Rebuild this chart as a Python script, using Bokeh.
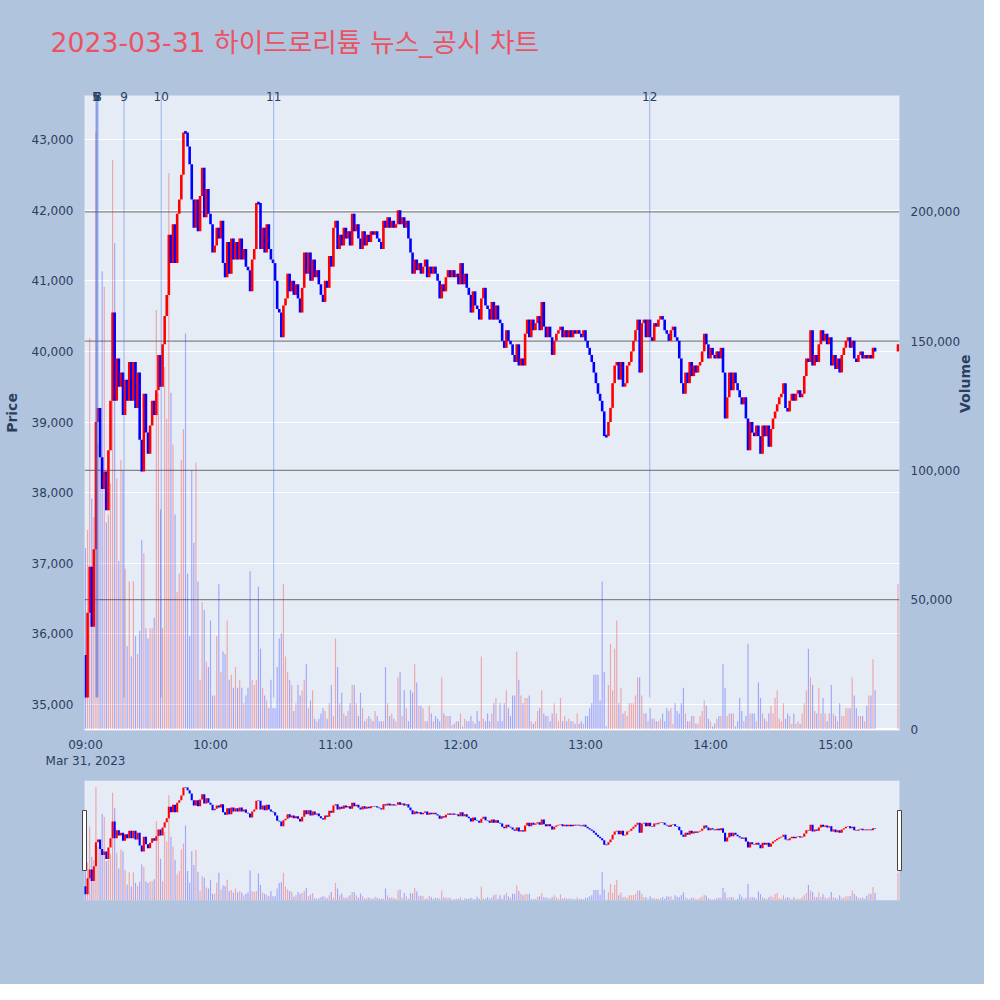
import math
import pandas as pd
from bokeh.plotting import figure
from bokeh.models import (ColumnDataSource, Range1d, LinearAxis, FixedTicker,
                          NumeralTickFormatter, DatetimeTickFormatter, Span, Title)
from bokeh.layouts import column
from bokeh.embed import file_html
from bokeh.resources import INLINE

# ---------------- data ----------------
TITLE = "2023-03-31 하이드로리튬 뉴스_공시 차트"
SESSION_START = "2023-03-31 09:00"
MINUTES = list(range(380)) + [390]          # minute bars, then the 15:30 closing auction
OPEN_FIRST = 35700
CLOSE = [
    35100, 36300, 36950, 36100, 37200, 39000, 39200, 38500, 38050, 38300,
    37750, 38600, 39300, 40550, 39300, 39900, 39500, 39700, 39100, 39600,
    39300, 39850, 39300, 39850, 39200, 39700, 38750, 38300, 39400, 38850,
    38550, 38950, 39300, 39100, 39450, 39950, 39500, 40100, 40500, 40800,
    41650, 41250, 41800, 41250, 41950, 42150, 42500, 43100, 43100, 42900,
    42650, 42150, 41750, 42150, 41700, 42200, 42600, 41900, 42300, 41950,
    41800, 41400, 41500, 41750, 41600, 41850, 41250, 41050, 41550, 41100,
    41600, 41300, 41550, 41300, 41600, 41300, 41450, 41200, 41150, 40850,
    41300, 41450, 42100, 42100, 41450, 41750, 41400, 41800, 41450, 41300,
    41250, 41000, 40600, 40550, 40200, 40650, 40750, 41100, 40850, 41000,
    40800, 40950, 40750, 40550, 40900, 41400, 41100, 41400, 41000, 41300,
    41050, 41150, 40950, 40800, 40700, 41000, 40900, 41350, 41200, 41750,
    41850, 41450, 41650, 41500, 41750, 41600, 41700, 41500, 41950, 41700,
    41800, 41600, 41450, 41700, 41500, 41650, 41550, 41700, 41650, 41700,
    41600, 41550, 41450, 41850, 41750, 41900, 41750, 41850, 41750, 41800,
    42000, 41800, 41900, 41750, 41850, 41600, 41400, 41100, 41300, 41150,
    41250, 41100, 41200, 41300, 41050, 41200, 41100, 41200, 41100, 41000,
    40750, 40950, 40850, 41050, 41150, 41050, 41150, 41050, 41100, 40950,
    41250, 40950, 41100, 40900, 40800, 40550, 40850, 40650, 40600, 40450,
    40750, 40900, 40650, 40600, 40450, 40700, 40450, 40650, 40450, 40400,
    40150, 40050, 40300, 40150, 40100, 39950, 39850, 40100, 39800, 39900,
    39800, 40250, 40450, 40200, 40450, 40300, 40400, 40500, 40300, 40700,
    40350, 40200, 40350, 40200, 39950, 40150, 40250, 40300, 40350, 40200,
    40300, 40200, 40300, 40200, 40300, 40250, 40300, 40250, 40200, 40300,
    40150, 40050, 39950, 39850, 39700, 39550, 39400, 39300, 39150, 38800,
    38800, 39000, 39200, 39550, 39800, 39850, 39600, 39850, 39500, 39550,
    39800, 39850, 40000, 40150, 40300, 40450, 39700, 40400, 40450, 40200,
    40450, 40200, 40150, 40400, 40350, 40450, 40500, 40450, 40300, 40250,
    40150, 40300, 40350, 40200, 40150, 39900, 39550, 39400, 39700, 39550,
    39850, 39650, 39800, 39700, 39800, 39850, 40000, 40250, 40100, 39900,
    40050, 39950, 39900, 40000, 39900, 40050, 39700, 39050, 39350, 39700,
    39450, 39700, 39550, 39450, 39350, 39250, 39350, 39050, 38600, 39000,
    38850, 38800, 38950, 38800, 38550, 38950, 38800, 38950, 38650, 38900,
    39050, 39150, 39250, 39350, 39400, 39550, 39200, 39150, 39300, 39400,
    39300, 39400, 39450, 39350, 39400, 39650, 39900, 39850, 40300, 39800,
    39950, 39850, 40100, 40300, 40150, 40250, 40100, 40200, 39800, 39950,
    39750, 39900, 39700, 39950, 40050, 40150, 40200, 40050, 40150, 39900,
    39850, 39950, 40000, 39900, 39950, 39900, 39950, 39900, 40050, 40000,
    40100,
]
VOLUME_K = [
    70, 77, 151, 89, 82, 231, 110, 120, 177, 171,
    80, 83, 95, 220, 188, 97, 65, 104, 100, 62,
    32, 57, 28, 57, 36, 29, 38, 73, 68, 39,
    35, 39, 39, 43, 162, 130, 85, 39, 140, 120,
    215, 130, 110, 83, 53, 60, 104, 116, 153, 60,
    36, 100, 72, 103, 57, 19, 49, 46, 26, 24,
    42, 13, 13, 36, 56, 22, 30, 29, 42, 19,
    21, 16, 24, 16, 19, 16, 10, 13, 16, 61,
    19, 17, 19, 55, 31, 16, 13, 11, 8, 19,
    8, 8, 24, 35, 37, 56, 28, 22, 19, 17,
    7, 10, 17, 13, 15, 19, 25, 8, 11, 15,
    4, 3, 4, 6, 8, 7, 4, 10, 17, 5,
    35, 24, 10, 14, 6, 5, 7, 10, 17, 17,
    10, 5, 14, 8, 3, 4, 5, 4, 3, 7,
    5, 3, 3, 3, 24, 10, 5, 6, 4, 3,
    20, 22, 5, 15, 8, 3, 15, 14, 25, 18,
    9, 9, 8, 3, 3, 9, 6, 3, 5, 4,
    3, 20, 6, 5, 5, 5, 1.5, 2, 3, 3,
    6, 1, 4, 3, 3, 5, 3, 2, 7, 3,
    28, 4, 3, 6, 3, 6, 10, 12, 3, 10,
    3, 10, 15, 8, 5, 13, 13, 30, 19, 13,
    10, 12, 12, 13, 3, 2, 3, 7, 8, 15,
    6, 5, 5, 3, 6, 10, 6, 3, 12, 3,
    5, 3, 4, 3, 3, 2, 6, 2, 3, 2,
    5, 5, 8, 10, 21, 21, 21, 11, 57, 22,
    1, 17, 33, 15, 31, 42, 10, 16, 6, 7,
    5, 10, 10, 10, 13, 20, 20, 13, 6, 6,
    3, 8, 4, 4, 3, 3, 4, 6, 3, 8,
    7, 8, 2, 10, 7, 6, 10, 16, 6, 3,
    3, 5, 5, 2, 2, 5, 7, 11, 9, 4,
    3, 1, 2, 4, 5, 5, 25, 16, 5, 6,
    6, 6, 1, 3, 12, 7, 3, 5, 33, 6,
    6, 6, 3, 18, 12, 6, 4, 3, 6, 9,
    6, 12, 15, 4, 3, 10, 4, 6, 5, 2,
    6, 2, 3, 2, 6, 10, 15, 31, 20, 17,
    7, 6, 16, 6, 12, 6, 3, 6, 17, 6,
    5, 3, 10, 5, 5, 8, 8, 8, 20, 13,
    8, 5, 5, 5, 3, 9, 13, 13, 27, 15,
    56,
]
NEWS_LABELS = ["5", "6", "7", "8", "9", "10", "11", "12"]
NEWS_TIMES = ["09:05:00", "09:05:20", "09:05:40", "09:06:00",
              "09:18:30", "09:36:20", "10:30:20", "13:30:50"]
PRICE_TICKS = [35000, 36000, 37000, 38000, 39000, 40000, 41000, 42000, 43000]
VOLUME_TICKS = [0, 50000, 100000, 150000, 200000]
HOUR_TICKS = ["09:00", "10:00", "11:00", "12:00", "13:00", "14:00", "15:00"]

# ---------------- styling ----------------
PAPER = "#b0c4de"
PLOT_BG = "#e5ecf6"
UP = "#ff0000"
DOWN = "#0000ff"
FONT = "DejaVu Sans, Noto Sans CJK KR, sans-serif"
TXT = "#2a3f5f"
PRICE_RANGE = (34632, 43623)
VOL_RANGE = (-580, 245000)
TICK = 20  # gives flat (open == close) candles a visible height

EPOCH = pd.Timestamp("1970-01-01")
DAY = SESSION_START.split(" ")[0]


def ms(ts):
    return (pd.Timestamp(ts) - EPOCH) / pd.Timedelta(milliseconds=1)


t_start = pd.Timestamp(SESSION_START)
n = min(len(MINUTES), len(CLOSE), len(VOLUME_K))
times = [ms(t_start + pd.Timedelta(minutes=m)) for m in MINUTES[:n]]
closes = CLOSE[:n]
opens = ([OPEN_FIRST] + CLOSE[:-1])[:n]
cols = [UP if c > o else DOWN for o, c in zip(opens, closes)]
src = ColumnDataSource(dict(
    t=times, o=opens, c=closes,
    hi=[max(o, c) + (TICK if o == c else 0) for o, c in zip(opens, closes)],
    lo=[min(o, c) - (TICK if o == c else 0) for o, c in zip(opens, closes)],
    v=[k * 1000 for k in VOLUME_K[:n]],
    col=cols,
))

MIN = 60000.0
PX = 28800.0                      # ms per screen pixel (125 px per hour)
FRAME_W = 815
x0 = ms(t_start) - 1 * PX
x1 = x0 + FRAME_W * PX

# ---------------- main chart ----------------
p = figure(width=984, height=778, x_range=Range1d(x0, x1),
           y_range=Range1d(*PRICE_RANGE), x_axis_type="datetime",
           output_backend="svg", toolbar_location=None,
           min_border_left=84, min_border_right=85,
           min_border_top=95, min_border_bottom=48)
p.border_fill_color = PAPER
p.background_fill_color = PLOT_BG
p.outline_line_color = None
p.extra_y_ranges = {"vol": Range1d(*VOL_RANGE)}
p.title.text = ""

# numbered news markers along the top edge (an axis of its own, above)
news_x = [ms(DAY + " " + s) for s in NEWS_TIMES]
news_axis = LinearAxis(ticker=FixedTicker(ticks=news_x),
                       major_label_overrides={xv: lab for xv, lab in zip(news_x, NEWS_LABELS)})
news_axis.axis_line_color = None
news_axis.major_tick_line_color = None
news_axis.minor_tick_line_color = None
news_axis.major_label_standoff = -11
news_axis.major_label_text_font = FONT
news_axis.major_label_text_font_size = "12px"
news_axis.major_label_text_color = TXT
p.add_layout(news_axis, "above")

# spacer, then the chart title further out
p.add_layout(Title(text=" ", text_font_size="1px", standoff=27), "above")
p.add_layout(Title(text=TITLE, align="left", offset=-34, standoff=0,
                   vertical_align="middle", text_font=FONT,
                   text_font_size="26.7px", text_font_style="normal",
                   text_color="#ec5262"), "above")

vol_axis = LinearAxis(y_range_name="vol", ticker=FixedTicker(ticks=VOLUME_TICKS),
                      formatter=NumeralTickFormatter(format="0,0"),
                      axis_label="Volume")
p.add_layout(vol_axis, "right")

p.yaxis[0].ticker = FixedTicker(ticks=PRICE_TICKS)
p.yaxis[0].formatter = NumeralTickFormatter(format="0,0")
p.yaxis[0].axis_label = "Price"
p.below[0].ticker = FixedTicker(ticks=[ms(DAY + " " + h) for h in HOUR_TICKS])
fmt = "%H:%M"
p.below[0].formatter = DatetimeTickFormatter(
    milliseconds=fmt, seconds=fmt, minsec=fmt, minutes=fmt, hourmin=fmt,
    hours=fmt, days=fmt, months=fmt, years=fmt,
    context="%b %d, %Y", context_which="start", context_location="below")

for ax in [p.below[0], p.yaxis[0], vol_axis]:
    ax.axis_line_color = None
    ax.major_tick_line_color = None
    ax.minor_tick_line_color = None
    ax.major_label_text_font = FONT
    ax.major_label_text_font_size = "12px"
    ax.major_label_text_color = TXT
    ax.major_label_standoff = 5
    ax.axis_label_text_font = FONT
    ax.axis_label_text_font_size = "14px"
    ax.axis_label_text_font_style = "bold"
    ax.axis_label_text_color = TXT
p.below[0].major_label_standoff = 1
p.yaxis[0].axis_label_standoff = 9
vol_axis.axis_label_standoff = 2
if "axis_label_orientation" in vol_axis.properties():
    vol_axis.axis_label_orientation = math.pi / 2

p.xgrid.grid_line_color = None
p.ygrid.grid_line_color = "white"
p.ygrid.grid_line_width = 1

for v in VOLUME_TICKS[1:]:
    p.add_layout(Span(location=v, dimension="width", y_range_name="vol",
                      line_color="#858585", line_width=1.2, level="underlay"))
p.add_layout(Span(location=0, dimension="width", y_range_name="vol",
                  line_color="white", line_width=2, level="underlay"))

p.vbar(x="t", width=0.55 * MIN, top="v", bottom=0, y_range_name="vol",
       source=src, fill_color="col", fill_alpha=0.3, line_color=None)
p.vbar(x="t", width=1.25 * MIN, top="hi", bottom="lo", source=src,
       fill_color="col", line_color=None)

low_of_day = min(min(opens), min(closes))
p.segment(x0=news_x, y0=[low_of_day] * len(news_x), x1=news_x,
          y1=[PRICE_RANGE[1]] * len(news_x),
          line_color="royalblue", line_alpha=0.45, line_width=1)

# ---------------- range slider ----------------
s = figure(width=984, height=206, x_range=Range1d(x0 - 6 * PX, x1 + 5 * PX),
           y_range=Range1d(*PRICE_RANGE), output_backend="svg",
           toolbar_location=None, x_axis_location=None, y_axis_location=None,
           min_border_left=78, min_border_right=80,
           min_border_top=2, min_border_bottom=84)
if "frame_align" in s.properties():
    s.frame_align = False
if "frame_align" in p.properties():
    p.frame_align = False
s.border_fill_color = PAPER
s.background_fill_color = PAPER
s.outline_line_color = None
s.grid.grid_line_color = None
s.extra_y_ranges = {"vol": Range1d(*VOL_RANGE)}
s.quad(left=[x0], right=[x1], bottom=[PRICE_RANGE[0]], top=[PRICE_RANGE[1]],
       fill_color=PLOT_BG, line_color=None)
s.vbar(x="t", width=0.55 * MIN, top="v", bottom=0, y_range_name="vol",
       source=src, fill_color="col", fill_alpha=0.3, line_color=None)
s.vbar(x="t", width=1.0 * MIN, top="hi", bottom="lo", source=src,
       fill_color="col", line_color=None)
mid = (PRICE_RANGE[0] + PRICE_RANGE[1]) / 2
s.rect(x=[x0, x1], y=[mid, mid], width=4, height=60, width_units="screen",
       height_units="screen", fill_color="white", line_color="#444444", line_width=1)

layout = column(p, s, spacing=0, styles={"background-color": PAPER})
open("out.html", "w").write(file_html(layout, INLINE))
